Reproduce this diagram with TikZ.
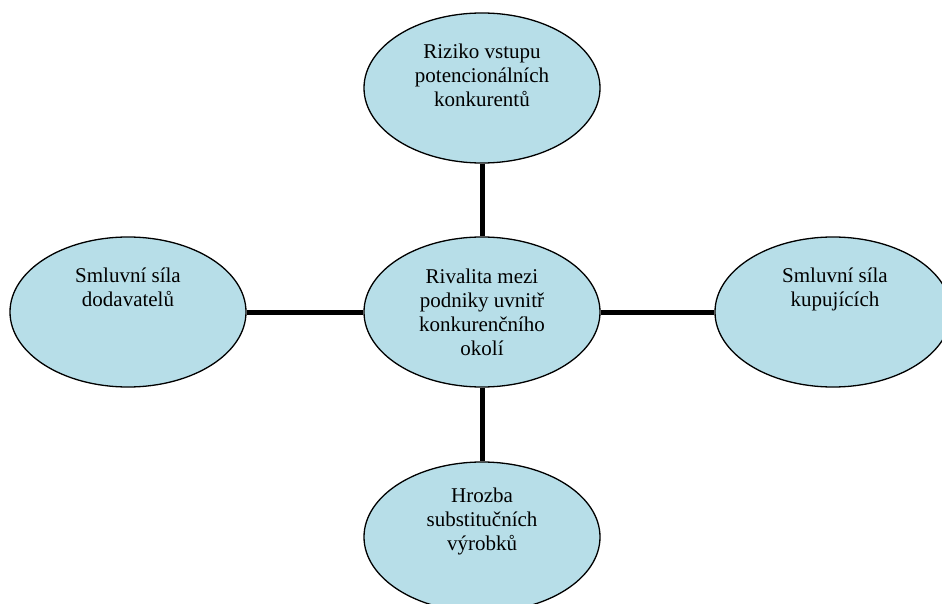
\documentclass[tikz,border=0pt]{standalone}
\usepackage{fontspec}
\setmainfont{Liberation Serif}
\usetikzlibrary{shapes.geometric}
\definecolor{forcefill}{HTML}{B7DEE8}
\tikzset{
  force/.style={ellipse, draw=black, line width=1.3pt, fill=forcefill,
    minimum width=236pt, minimum height=150pt, inner sep=0pt},
  % labels are placed by the baseline of their last line
  forcetext/.style={anchor=base, align=center, inner sep=0pt,
    font=\fontsize{21}{24}\selectfont},
  conn/.style={line width=5pt, draw=black}
}
\begin{document}
\begin{tikzpicture}[x=1pt, y=-1pt]
  \useasboundingbox (0,0) rectangle (942,604);
  \clip (0,0) rectangle (942,604);
  % the five forces
  \node[force] (entry) at (482,88) {};
  \node[force] (rival) at (482,312) {};
  \node[force] (suppl) at (128,312) {};
  \node[force] (buyer) at (833,312) {};
  \node[force] (subst) at (482,537) {};
  % connectors from the centre to each force
  \draw[conn] (entry.south) -- (rival.north);
  \draw[conn] (rival.south) -- (subst.north);
  \draw[conn] (suppl.east) -- (rival.west);
  \draw[conn] (rival.east) -- (buyer.west);
  % labels
  \node[forcetext] (tentry) at (482,107) {Riziko vstupu\\potencionálních\\konkurentů};
  \node[forcetext] (trival) at (482,355) {Rivalita mezi\\podniky uvnitř\\konkurenčního\\okolí};
  \node[forcetext] (tsuppl) at (128,306) {Smluvní síla\\dodavatelů};
  \node[forcetext] (tbuyer) at (835,306) {Smluvní síla\\kupujících};
  \node[forcetext] (tsubst) at (482,550) {Hrozba\\substitučních\\výrobků};
\end{tikzpicture}
\end{document}
